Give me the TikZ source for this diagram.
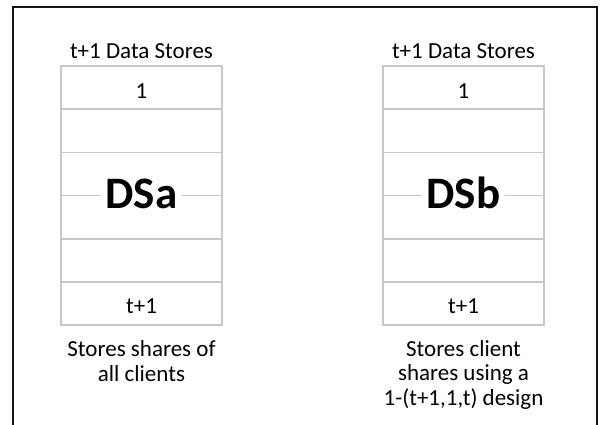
\documentclass[tikz,border=0pt]{standalone}
\usepackage{fontspec}
\setmainfont{Carlito}
\definecolor{cellgray}{RGB}{200,200,200}
\definecolor{framegray}{RGB}{20,20,20}

\begin{document}
\begin{tikzpicture}[x=1pt,y=-1pt,
    cell/.style={draw=cellgray,line width=1.6pt,minimum width=161pt,minimum height=43.2pt,inner sep=0pt},
    lbl/.style={font=\fontsize{23}{24.5}\selectfont},
    dsname/.style={font=\fontsize{45}{50}\selectfont\bfseries,fill=white,inner xsep=5pt,inner ysep=0pt}]
    \useasboundingbox (0,0) rectangle (600,425);
    \draw[framegray,line width=2pt] (13,425) -- (13,7) -- (597,7) -- (597,425);

    % the two stacks of data stores
    \foreach \i in {1,...,6} {
        \node[cell] (a\i) at (141.5,{66+43.2*(\i-0.5)}) {};
        \node[cell] (b\i) at (463.5,{66+43.2*(\i-0.5)}) {};
    }

    \node[lbl,anchor=base] at ([yshift=7pt]a1.north) (atitle) {t+1 Data Stores};
    \node[lbl,anchor=base] at ([yshift=11pt]a1.south) (afirst) {1};
    \node[dsname,anchor=base] at ([yshift=-12.5pt]a3.south) (dsa) {DSa};
    \node[lbl,anchor=base] at ([yshift=13pt]a6.south) (alast) {t+1};
    \node[lbl,anchor=base,align=center] at ([yshift=-55pt]a6.south) (anote) {Stores shares of\\all clients};

    \node[lbl,anchor=base] at ([yshift=7pt]b1.north) (btitle) {t+1 Data Stores};
    \node[lbl,anchor=base] at ([yshift=11pt]b1.south) (bfirst) {1};
    \node[dsname,anchor=base] at ([yshift=-12.5pt]b3.south) (dsb) {DSb};
    \node[lbl,anchor=base] at ([yshift=13pt]b6.south) (blast) {t+1};
    \node[lbl,anchor=base,align=center] at ([yshift=-79pt]b6.south) (bnote) {Stores client\\shares using a\\1-(t+1,1,t) design};
\end{tikzpicture}
\end{document}
